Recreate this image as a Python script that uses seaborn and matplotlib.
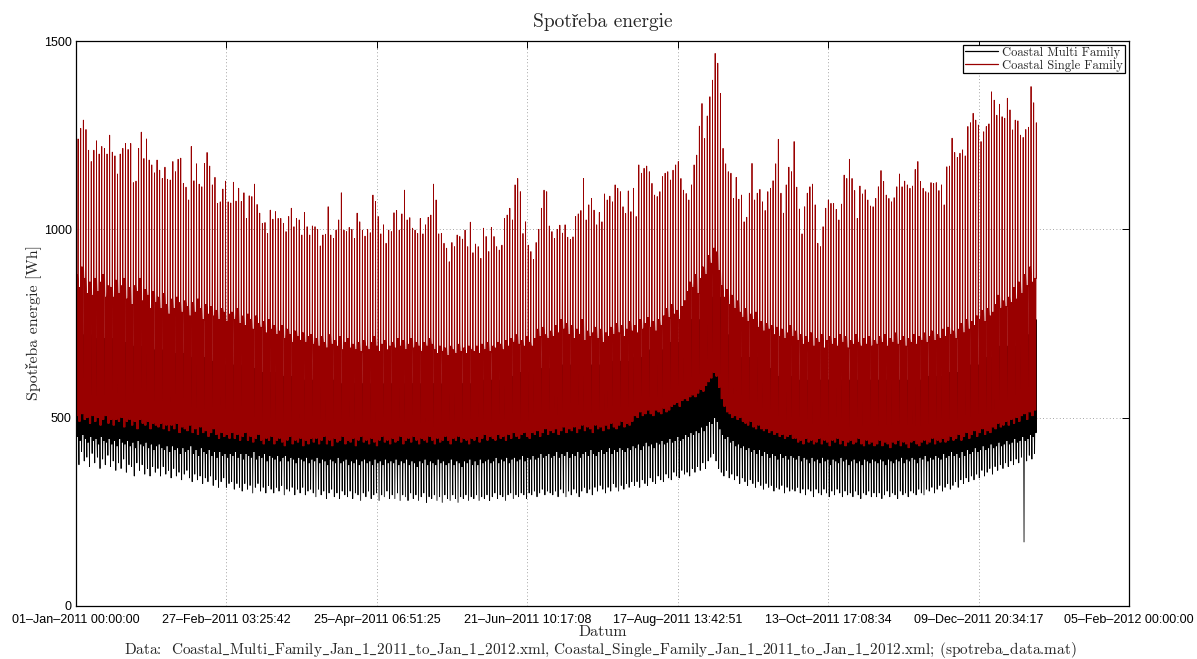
import numpy as np
import pandas as pd
import matplotlib
matplotlib.use("Agg")
import matplotlib.pyplot as plt
import matplotlib.dates as mdates
import seaborn as sns

# ---- Daily readings for 2011 [Wh]; one row per month (Jan .. Dec) ----

# evening peak of the single-family load
single_peak = [
    1240, 1268, 1290, 1265, 1210, 1180, 1210, 1235, 1200, 1220, 1215, 1200, 1250, 1205, 1195, 1147,
    1200, 1215, 1228, 1212, 1228, 1124, 1128, 1215, 1258, 1188, 1240, 1184, 1171, 1150, 1184,
    1157, 1135, 1165, 1133, 1131, 1180, 1153, 1186, 1189, 1122, 1112, 1078, 1220, 1129, 1174, 1120,
    1113, 1175, 1204, 1168, 1118, 1138, 1069, 1073, 1107, 1128, 1073, 1070,
    1125, 1075, 1109, 1074, 1097, 1029, 1089, 1087, 1120, 1066, 1043, 1016, 1018, 989, 1051, 1027,
    1047, 1029, 1029, 1016, 994, 1034, 1056, 1007, 1029, 1025, 985, 1045, 1007, 985, 1009,
    1007, 1000, 956, 985, 987, 1060, 985, 976, 998, 1025, 1097, 998, 994, 1005, 1000, 976,
    1043, 1020, 998, 982, 1000, 991, 1091, 1074, 1034, 988, 1012, 963, 998, 994,
    1044, 1050, 998, 1041, 1104, 1025, 1031, 1003, 998, 989, 1029, 988, 1012, 1032, 1038, 1120,
    1078, 988, 989, 963, 950, 914, 965, 954, 985, 981, 974, 998, 954, 1019, 938,
    961, 954, 923, 1003, 981, 941, 1005, 981, 954, 945, 958, 1029, 1038, 1056, 1025, 1118,
    1135, 1100, 989, 1020, 958, 941, 920, 965, 1000, 1056, 1104, 1100, 1009, 994,
    976, 1000, 1011, 990, 1012, 979, 973, 980, 1034, 1041, 1050, 1135, 1025, 1065, 1082, 1051,
    1012, 1045, 1020, 1094, 1078, 1088, 1073, 1118, 1109, 1100, 1060, 1042, 1102, 1047, 1109,
    1034, 1171, 1149, 1162, 1168, 1153, 1122, 1091, 1087, 1100, 1140, 1149, 1153, 1131, 1157, 1171,
    1180, 1135, 1104, 1095, 1078, 1118, 1171, 1197, 1274, 1334, 1241, 1301, 1352, 1396, 1467,
    1441, 1361, 1215, 1174, 1153, 1149, 1082, 1138, 1080, 1091, 1020, 1032, 1096, 1175, 1078, 1096,
    1106, 1073, 1050, 1100, 1109, 1129, 1174, 1239, 1096, 1043, 1118, 1165, 1153, 1233,
    1112, 1054, 988, 1060, 1096, 1113, 1120, 1065, 963, 954, 1007, 1056, 1078, 1069, 1069, 1053,
    1025, 1067, 1144, 1135, 1186, 1135, 1103, 1029, 1115, 1094, 1105, 1078, 1062, 1060, 1082,
    1113, 1156, 1127, 1091, 1082, 1073, 1084, 1113, 1147, 1113, 1128, 1118, 1109, 1115, 1159, 1180,
    1127, 1109, 1100, 1097, 1124, 1122, 1124, 1103, 1118, 1065, 1166, 1168, 1242, 1204,
    1191, 1202, 1211, 1195, 1273, 1283, 1308, 1290, 1277, 1233, 1259, 1273, 1280, 1365, 1343, 1303,
    1332, 1299, 1295, 1348, 1317, 1264, 1290, 1288, 1250, 1244, 1265, 1271, 1379, 1336, 1283,
]

# upper edge of the daytime level of the single-family load
single_band = [
    880, 845, 900, 870, 830, 860, 825, 870, 835, 860, 880, 820, 850, 845, 820, 865, 830, 850, 870, 815, 845, 800, 850, 835, 870, 810, 840, 825, 790, 835, 805,
    820, 790, 830, 800, 775, 815, 790, 820, 805, 780, 810, 795, 770, 805, 780, 815, 790, 760, 800, 775, 795, 770, 785, 760, 790, 780, 755, 775,
    780, 760, 790, 750, 770, 745, 775, 760, 735, 770, 750, 740, 755, 725, 760, 735, 745, 720, 730, 745, 710, 735, 720, 700, 730, 715, 705, 725, 700, 715, 720,
    695, 710, 690, 715, 700, 685, 720, 695, 705, 690, 715, 680, 700, 710, 685, 695, 680, 700, 675, 705, 690, 680, 700, 715, 690, 675, 695, 705, 680, 690,
    700, 685, 710, 690, 705, 680, 695, 710, 685, 700, 690, 675, 700, 690, 710, 695, 680, 670, 690, 675, 685, 665, 690, 680, 670, 695, 675, 685, 670, 690, 680,
    675, 690, 670, 695, 680, 700, 675, 690, 685, 700, 695, 680, 705, 690, 710, 700, 720, 695, 705, 690, 715, 700, 690, 710, 735, 715, 740, 720, 710, 730,
    715, 745, 725, 760, 735, 750, 720, 745, 710, 735, 720, 760, 705, 730, 715, 725, 740, 710, 735, 700, 725, 715, 740, 720, 750, 725, 745, 715, 735, 755, 730,
    745, 725, 760, 735, 750, 765, 740, 755, 730, 760, 745, 770, 790, 765, 800, 775, 785, 760, 795, 810, 835, 860, 845, 880, 830, 870, 900, 880, 930, 910, 950,
    940, 890, 850, 820, 840, 800, 825, 790, 810, 780, 765, 790, 755, 775, 760, 780, 740, 755, 730, 750, 735, 745, 720, 740, 715, 735, 710, 725, 745, 715,
    730, 705, 720, 695, 715, 700, 725, 690, 710, 700, 720, 685, 705, 715, 695, 710, 690, 720, 700, 715, 685, 705, 695, 720, 700, 690, 710, 695, 715, 690, 705,
    695, 715, 700, 720, 690, 710, 700, 725, 695, 705, 715, 690, 710, 700, 720, 695, 715, 705, 725, 700, 715, 730, 705, 720, 710, 735, 715, 740, 720, 730,
    710, 735, 750, 725, 760, 735, 755, 745, 770, 760, 785, 755, 790, 770, 780, 800, 825, 790, 810, 795, 820, 805, 845, 815, 860, 830, 880, 850, 900, 860, 870,
]

# night minimum of the single-family load
single_low = [
    505, 490, 510, 495, 500, 485, 505, 490, 500, 480, 495, 505, 485, 495, 480, 495, 490, 500, 475, 490, 495, 480, 490, 470, 495, 485, 480, 490, 470, 485, 480,
    475, 485, 470, 480, 465, 480, 470, 485, 460, 475, 470, 465, 480, 460, 470, 455, 475, 460, 465, 450, 460, 470, 455, 445, 460, 450, 455, 445,
    460, 445, 455, 440, 450, 460, 440, 450, 435, 445, 455, 440, 430, 445, 440, 450, 430, 440, 445, 435, 425, 440, 450, 430, 440, 435, 445, 425, 440, 430, 445,
    435, 445, 430, 440, 450, 430, 440, 425, 445, 435, 440, 450, 430, 440, 435, 445, 425, 440, 450, 435, 440, 430, 445, 435, 425, 440, 450, 435, 440, 430,
    445, 435, 440, 450, 430, 440, 445, 435, 450, 440, 430, 445, 440, 435, 450, 440, 430, 445, 435, 440, 450, 440, 430, 445, 440, 450, 435, 445, 440, 430, 445,
    440, 450, 435, 445, 455, 440, 450, 445, 440, 455, 445, 450, 440, 455, 445, 460, 450, 445, 455, 460, 450, 445, 460, 455, 465, 450, 460, 470, 455, 465,
    460, 470, 455, 465, 475, 460, 470, 465, 475, 460, 470, 480, 465, 475, 470, 460, 480, 470, 475, 465, 480, 470, 485, 475, 470, 480, 490, 475, 485, 480, 490,
    505, 500, 515, 505, 510, 520, 510, 505, 520, 515, 510, 525, 515, 520, 530, 535, 540, 530, 545, 550, 545, 555, 560, 555, 565, 575, 570, 585, 595, 605, 620,
    610, 580, 550, 530, 515, 510, 500, 505, 495, 500, 490, 485, 480, 490, 475, 470, 480, 470, 465, 470, 460, 465, 455, 460, 450, 455, 445, 450, 455, 445,
    445, 435, 440, 430, 445, 435, 440, 430, 435, 445, 430, 440, 435, 425, 440, 435, 445, 430, 440, 425, 435, 440, 430, 435, 445, 430, 425, 440, 430, 435, 425,
    430, 440, 425, 435, 430, 420, 435, 430, 440, 425, 435, 430, 420, 435, 440, 430, 425, 435, 440, 430, 435, 445, 430, 440, 435, 445, 435, 440, 450, 440,
    445, 455, 440, 450, 460, 445, 455, 465, 450, 460, 470, 455, 465, 460, 475, 470, 485, 475, 480, 490, 480, 495, 485, 500, 490, 505, 510, 495, 515, 505, 520,
]

# lower edge of the night level of the multi-family load
multi_mid = [
    450, 440, 455, 445, 435, 450, 440, 445, 430, 450, 440, 435, 445, 430, 440, 425, 445, 435, 430, 440, 425, 435, 420, 440, 430, 425, 435, 420, 430, 415, 425,
    430, 420, 415, 425, 410, 425, 415, 420, 405, 420, 410, 415, 425, 405, 415, 400, 420, 410, 405, 415, 400, 410, 395, 410, 400, 405, 395, 405,
    400, 410, 395, 405, 390, 405, 400, 395, 410, 390, 400, 395, 405, 385, 400, 395, 390, 400, 385, 395, 400, 385, 395, 390, 380, 395, 390, 385, 395, 380, 390,
    385, 395, 380, 390, 385, 375, 390, 385, 380, 395, 380, 385, 390, 375, 385, 380, 390, 375, 385, 390, 380, 385, 375, 390, 380, 385, 375, 390, 380, 385,
    380, 390, 375, 385, 380, 390, 375, 385, 380, 370, 385, 380, 390, 375, 385, 380, 375, 390, 380, 385, 375, 380, 390, 375, 385, 380, 370, 385, 380, 390, 375,
    385, 375, 390, 380, 385, 390, 380, 385, 395, 380, 390, 385, 395, 380, 390, 395, 385, 390, 400, 385, 395, 390, 400, 390, 395, 405, 395, 400, 405, 395,
    400, 410, 395, 405, 400, 410, 395, 405, 400, 410, 395, 405, 410, 400, 415, 405, 400, 410, 415, 405, 410, 420, 405, 415, 410, 420, 415, 410, 420, 415, 425,
    420, 430, 415, 425, 435, 425, 430, 420, 435, 430, 440, 430, 435, 445, 435, 440, 450, 440, 445, 455, 450, 460, 455, 465, 460, 475, 465, 480, 490, 485, 500,
    490, 470, 455, 445, 450, 435, 440, 425, 430, 420, 425, 415, 420, 410, 415, 405, 415, 400, 410, 405, 395, 405, 400, 390, 405, 395, 400, 390, 400, 395,
    390, 400, 385, 395, 390, 380, 395, 385, 390, 380, 395, 385, 390, 375, 390, 385, 380, 395, 385, 390, 375, 385, 390, 380, 385, 375, 390, 385, 380, 390, 385,
    380, 390, 385, 375, 390, 385, 380, 390, 385, 395, 380, 390, 385, 395, 390, 380, 395, 390, 400, 385, 395, 390, 400, 395, 390, 405, 395, 400, 410, 400,
    405, 395, 410, 400, 415, 405, 410, 420, 410, 415, 425, 415, 420, 430, 420, 425, 435, 425, 430, 440, 430, 435, 445, 435, 440, 450, 440, 445, 455, 450, 460,
]

# night minimum of the multi-family load (27 Dec: single low reading)
multi_low = [
    400, 375, 410, 385, 395, 370, 405, 380, 395, 365, 390, 375, 400, 370, 385, 360, 380, 365, 390, 355, 375, 370, 345, 380, 360, 375, 350, 365, 345, 370, 355,
    365, 345, 370, 350, 360, 340, 365, 345, 355, 335, 350, 360, 340, 330, 350, 335, 345, 325, 340, 330, 345, 320, 335, 315, 330, 340, 315, 325,
    330, 310, 325, 315, 305, 325, 310, 320, 300, 315, 325, 305, 315, 300, 320, 310, 300, 315, 305, 320, 295, 310, 305, 315, 295, 310, 300, 315, 295, 305, 310,
    300, 290, 310, 295, 305, 285, 300, 310, 290, 300, 285, 305, 295, 290, 305, 285, 300, 295, 280, 300, 290, 305, 285, 295, 300, 280, 295, 290, 305, 285,
    295, 285, 300, 280, 295, 290, 280, 300, 285, 295, 280, 290, 300, 275, 290, 285, 295, 280, 290, 275, 295, 285, 280, 295, 285, 275, 290, 285, 295, 280, 290,
    285, 295, 280, 290, 285, 295, 280, 290, 300, 285, 295, 290, 280, 295, 300, 285, 295, 290, 300, 295, 285, 300, 295, 305, 290, 300, 310, 295, 305, 300,
    295, 305, 290, 310, 300, 290, 305, 295, 310, 300, 290, 305, 315, 300, 310, 295, 315, 305, 320, 310, 300, 315, 305, 325, 315, 305, 320, 310, 325, 315, 330,
    320, 330, 315, 335, 325, 320, 340, 330, 325, 345, 335, 330, 350, 340, 335, 355, 345, 340, 360, 350, 355, 345, 365, 355, 370, 360, 380, 365, 385, 395, 405,
    385, 365, 355, 345, 360, 340, 350, 335, 345, 325, 340, 330, 320, 335, 325, 315, 330, 320, 310, 325, 315, 320, 305, 315, 310, 320, 300, 315, 305, 310,
    305, 315, 300, 310, 295, 310, 305, 290, 310, 300, 295, 310, 300, 290, 305, 295, 310, 300, 290, 305, 295, 300, 290, 305, 295, 285, 300, 295, 305, 290, 300,
    290, 300, 285, 295, 305, 290, 300, 295, 285, 305, 295, 300, 290, 305, 300, 295, 310, 300, 295, 310, 305, 315, 300, 310, 320, 305, 315, 325, 310, 320,
    330, 315, 335, 325, 340, 330, 345, 335, 350, 340, 360, 345, 355, 365, 350, 370, 360, 375, 365, 380, 370, 385, 375, 390, 380, 395, 170, 385, 400, 390, 405,
]

# weekly daytime maximum of the multi-family load (52 weeks + 31 Dec)
multi_high_week = [720, 710, 700, 690, 680, 670, 660, 650, 640,
                   630, 620, 610, 600, 600, 590, 590, 590, 590,
                   590, 590, 590, 590, 600, 610, 620, 630, 640,
                   640, 640, 650, 660, 680, 700, 760, 820,
                   720, 660, 630, 610, 600, 600, 600, 600, 600,
                   600, 600, 610, 620, 640, 660, 690, 720, 760]

series_names = ["Coastal Multi Family", "Coastal Single Family"]
series_colors = ["#000000", "#990000"]
tick_labels = ["01\u2013Jan\u20132011 00:00:00", "27\u2013Feb\u20132011 03:25:42", "25\u2013Apr\u20132011 06:51:25",
               "21\u2013Jun\u20132011 10:17:08", "17\u2013Aug\u20132011 13:42:51", "13\u2013Oct\u20132011 17:08:34",
               "09\u2013Dec\u20132011 20:34:17", "05\u2013Feb\u20132012 00:00:00"]
data_note = ("Data:  Coastal_Multi_Family_Jan_1_2011_to_Jan_1_2012.xml, "
             "Coastal_Single_Family_Jan_1_2011_to_Jan_1_2012.xml; (spotreba_data.mat)")

for arr in (single_peak, single_band, single_low, multi_mid, multi_low):
    assert len(arr) == 365, len(arr)

# Intraday profile per day: night minimum, daytime swings, evening peak
multi_hours = [0, 3, 5, 8, 11, 14, 17, 20]
single_hours = [0, 2, 5, 8, 11, 14, 16, 19, 21]
start = pd.Timestamp("2011-01-01")
rows = []
for d in range(365):
    day0 = start + pd.Timedelta(days=d)
    m_mid, m_low, m_high = multi_mid[d], multi_low[d], multi_high_week[d // 7]
    s_band, s_low, s_peak = single_band[d], single_low[d], single_peak[d]
    m_vals = [m_mid, m_low, m_mid, m_high, m_mid, m_high, m_mid, m_high]
    s_vals = [s_band, s_low, s_band, s_low, s_band, s_low, s_band, s_peak, s_band]
    for h, v in zip(multi_hours, m_vals):
        rows.append((day0 + pd.Timedelta(hours=h), v, series_names[0]))
    for h, v in zip(single_hours, s_vals):
        rows.append((day0 + pd.Timedelta(hours=h), v, series_names[1]))
df = pd.DataFrame(rows, columns=["Datum", "Spotreba", "Serie"])

sns.set_style("white")
serif = ["cmr10", "Liberation Serif"]
plt.rcParams["font.family"] = ["Liberation Sans", "DejaVu Sans"]
plt.rcParams["axes.unicode_minus"] = False
plt.rcParams["mathtext.fontset"] = "cm"

fig = plt.figure(figsize=(11.97, 6.59), dpi=100)
ax = fig.add_axes([76 / 1197, 1 - 606 / 659, (1129 - 76) / 1197, (606 - 41) / 659])

sns.lineplot(data=df, x="Datum", y="Spotreba", hue="Serie", hue_order=series_names,
             palette=series_colors, estimator=None, linewidth=0.6, ax=ax)

x0 = mdates.date2num(start)
ax.set_xlim(x0, x0 + 400)
ax.set_xticks([x0 + 400 * i / 7 for i in range(8)])
ax.set_xticklabels(tick_labels)
ax.set_ylim(0, 1500)
ax.set_yticks([0, 500, 1000, 1500])
ax.set_xlabel("")
ax.set_ylabel("")
ax.tick_params(direction="in", top=True, right=True, length=5, width=0.7,
               labelsize=9, colors="black")
ax.tick_params(axis="x", pad=6)
ax.tick_params(axis="y", pad=3)
ax.grid(True, linestyle=(0, (1, 3)), color="#888888", linewidth=0.6)
ax.set_axisbelow(True)
for sp in ax.spines.values():
    sp.set_visible(True)
    sp.set_color("black")
    sp.set_linewidth(0.9)

leg = ax.get_legend()
handles = leg.legend_handles
labels = [t.get_text() for t in leg.get_texts()]
leg.remove()
for hnd in handles:
    hnd.set_linewidth(0.9)
ax.legend(handles, labels, loc="upper right", prop={"family": serif, "size": 9},
          frameon=True, fancybox=False, framealpha=1, edgecolor="black",
          borderpad=0.15, labelspacing=0.05, handlelength=2.6, handletextpad=0.4,
          borderaxespad=0.3)
ax.get_legend().get_frame().set_linewidth(0.9)

fig.text((76 + 1129) / 2 / 1197, 1 - 22 / 659, "Spotřeba energie", family=serif, size=14,
         ha="center", va="center")
fig.text(33 / 1197, 1 - 323 / 659, "Spotřeba energie [Wh]", family=serif, size=11.5,
         rotation=90, ha="center", va="center")
fig.text((76 + 1129) / 2 / 1197, 1 - 632 / 659, "Datum", family=serif, size=11.5,
         ha="center", va="center")
# underscores set through mathtext so that cmr10 shows a real low line
fig.text(600 / 1197, 1 - 650 / 659, data_note.replace("_", r"$\_$"),
         family=serif, size=11, ha="center", va="center")

fig.savefig("out.png", dpi=100, facecolor="white")
